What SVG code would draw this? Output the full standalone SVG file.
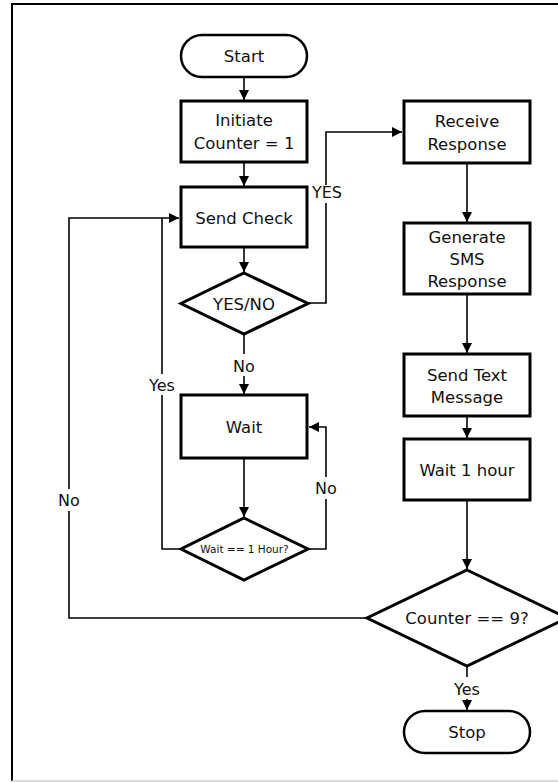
<svg xmlns="http://www.w3.org/2000/svg" width="558" height="782" viewBox="0 0 558 782">
<style>
.box{fill:#fff;stroke:#000;stroke-width:3}
.term{fill:#fff;stroke:#000;stroke-width:2.5}
.con{fill:none;stroke:#000;stroke-width:1.6}
.t{font-family:"DejaVu Sans",sans-serif;font-size:16.5px;fill:#111;text-anchor:middle}
.lbl{font-family:"DejaVu Sans",sans-serif;font-size:16px;fill:#111;text-anchor:middle}
.s{font-family:"DejaVu Sans",sans-serif;font-size:10.5px;fill:#111;text-anchor:middle}
.bg{fill:#fff}
</style>
<defs>
<marker id="ah" markerUnits="userSpaceOnUse" markerWidth="11" markerHeight="11" refX="10" refY="5" orient="auto">
<path d="M0,0 L10,5 L0,10 z" fill="#000"/>
</marker>
</defs>
<rect x="0" y="0" width="558" height="782" fill="#fff"/>
<path d="M12,781 L12,4 L558,4" fill="none" stroke="#000" stroke-width="2"/>
<line x1="12" y1="781" x2="558" y2="781" stroke="#ccc" stroke-width="1.5"/>

<g id="connectors">
<path class="con" d="M244,77 L244,100" marker-end="url(#ah)"/>
<path class="con" d="M244,162 L244,186" marker-end="url(#ah)"/>
<path class="con" d="M244,247 L244,272" marker-end="url(#ah)"/>
<path class="con" d="M308,303 L326,303 L326,132 L402,132" marker-end="url(#ah)"/>
<path class="con" d="M244,334 L244,394" marker-end="url(#ah)"/>
<path class="con" d="M244,458 L244,517" marker-end="url(#ah)"/>
<path class="con" d="M181,549 L162,549 L162,218 L179,218" marker-end="url(#ah)"/>
<path class="con" d="M308,549 L326,549 L326,427 L309,427" marker-end="url(#ah)"/>
<path class="con" d="M467,163 L467,222" marker-end="url(#ah)"/>
<path class="con" d="M467,294 L467,353" marker-end="url(#ah)"/>
<path class="con" d="M467,416 L467,438" marker-end="url(#ah)"/>
<path class="con" d="M467,500 L467,569" marker-end="url(#ah)"/>
<path class="con" d="M367,618 L69,618 L69,218 L162,218"/>
<path class="con" d="M467,666 L467,710" marker-end="url(#ah)"/>
</g>

<g id="labels">
<rect class="bg" x="311" y="185" width="32" height="18"/>
<text class="lbl" x="327" y="198">YES</text>
<rect class="bg" x="231" y="354" width="26" height="22"/>
<text class="lbl" x="244" y="372">No</text>
<rect class="bg" x="146" y="374" width="32" height="21"/>
<text class="lbl" x="162" y="391">Yes</text>
<rect class="bg" x="313" y="477" width="26" height="22"/>
<text class="lbl" x="326" y="494">No</text>
<rect class="bg" x="56" y="489" width="26" height="22"/>
<text class="lbl" x="69" y="506">No</text>
<rect class="bg" x="451" y="677" width="32" height="22"/>
<text class="lbl" x="467" y="695">Yes</text>
</g>

<g id="start">
<rect class="term" x="181" y="35" width="126" height="42" rx="21" ry="21"/>
<text class="t" x="244" y="62">Start</text>
</g>
<g id="initiate">
<rect class="box" x="181" y="101" width="126" height="61"/>
<text class="t" x="244" y="126">Initiate</text>
<text class="t" x="244" y="149">Counter = 1</text>
</g>
<g id="send-check">
<rect class="box" x="181" y="187" width="126" height="60"/>
<text class="t" x="244" y="224">Send Check</text>
</g>
<g id="yes-no">
<polygon class="box" points="244,273 308,303.5 244,334 181,303.5"/>
<text class="t" x="244" y="309.5">YES/NO</text>
</g>
<g id="wait">
<rect class="box" x="181" y="395" width="126" height="63"/>
<text class="t" x="244" y="433">Wait</text>
</g>
<g id="wait-hour">
<polygon class="box" points="244,518 308,549 244,580 181,549"/>
<text class="s" x="244.5" y="553">Wait == 1 Hour?</text>
</g>
<g id="receive">
<rect class="box" x="404" y="101" width="126" height="62"/>
<text class="t" x="467" y="126.5">Receive</text>
<text class="t" x="467" y="149.5">Response</text>
</g>
<g id="generate">
<rect class="box" x="404" y="223" width="126" height="71"/>
<text class="t" x="467" y="243">Generate</text>
<text class="t" x="467" y="265">SMS</text>
<text class="t" x="467" y="287">Response</text>
</g>
<g id="send-text">
<rect class="box" x="404" y="354" width="126" height="62"/>
<text class="t" x="467" y="380.5">Send Text</text>
<text class="t" x="467" y="402.5">Message</text>
</g>
<g id="wait-1-hour">
<rect class="box" x="404" y="439" width="126" height="61"/>
<text class="t" x="467" y="476">Wait 1 hour</text>
</g>
<g id="counter">
<polygon class="box" points="467,570 567,618 467,666 367,618"/>
<text class="t" x="467" y="624">Counter == 9?</text>
</g>
<g id="stop">
<rect class="term" x="404" y="711" width="126" height="42" rx="21" ry="21"/>
<text class="t" x="467" y="738">Stop</text>
</g>
</svg>
